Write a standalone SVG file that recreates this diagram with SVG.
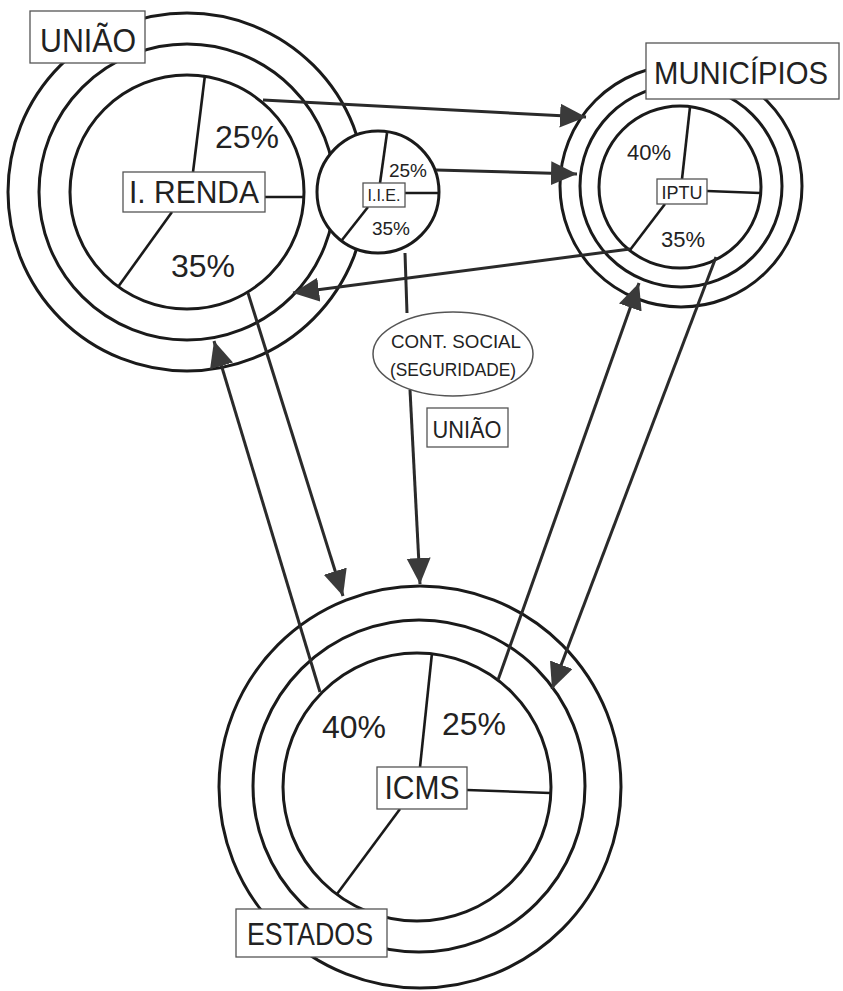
<svg xmlns="http://www.w3.org/2000/svg" width="843" height="991" viewBox="0 0 843 991">
<style>
.ring{fill:none;stroke:#1a1a1a;stroke-width:3}
.fillring{fill:#fff;stroke:#1a1a1a;stroke-width:3}
.pie{stroke:#1a1a1a;stroke-width:2.6;fill:none}
.box{fill:#fff;stroke:#555;stroke-width:1.3}
.t{font-family:"Liberation Sans",Arial,sans-serif;fill:#222;text-anchor:middle}
.con{stroke:#2a2a2a;stroke-width:3;fill:none}
</style>
<defs>
<marker id="ah" markerUnits="userSpaceOnUse" markerWidth="28" markerHeight="26" refX="26" refY="12" orient="auto">
<path d="M0,0 L26,12 L0,24 Z" fill="#3a3a3a"/>
</marker>
</defs>
<rect width="843" height="991" fill="#fff"/>

<g id="uniao">
<circle class="ring" cx="187" cy="192" r="179"/>
<circle class="ring" cx="187" cy="192" r="148"/>
<circle class="ring" cx="187" cy="192" r="117"/>
<line class="pie" x1="205" y1="75" x2="193" y2="172"/>
<line class="pie" x1="265" y1="197" x2="305" y2="197"/>
<line class="pie" x1="172" y1="212" x2="118" y2="287"/>
<rect class="box" x="123" y="172" width="142" height="40"/>
<text class="t" x="194" y="203" font-size="32" textLength="130" lengthAdjust="spacingAndGlyphs">I. RENDA</text>
<text class="t" x="247" y="148" font-size="32">25%</text>
<text class="t" x="203" y="277" font-size="32">35%</text>
<rect class="box" x="30" y="11" width="115" height="52"/>
<text class="t" x="88" y="52" font-size="34" textLength="96" lengthAdjust="spacingAndGlyphs">UNIÃO</text>
</g>

<g id="iie">
<circle class="fillring" cx="378" cy="192" r="61"/>
<line class="pie" x1="387" y1="133" x2="380" y2="183"/>
<line class="pie" x1="405" y1="193" x2="439" y2="193"/>
<line class="pie" x1="368" y1="207" x2="342" y2="240"/>
<rect class="box" x="363" y="183" width="42" height="24"/>
<text class="t" x="384" y="201" font-size="16" textLength="33" lengthAdjust="spacingAndGlyphs">I.I.E.</text>
<text class="t" x="408" y="177" font-size="19">25%</text>
<text class="t" x="391" y="235" font-size="19">35%</text>
</g>

<g id="municipios">
<circle class="ring" cx="681" cy="186" r="121"/>
<circle class="ring" cx="681" cy="186" r="101"/>
<circle class="ring" cx="680" cy="187" r="81"/>
<line class="pie" x1="690" y1="107" x2="682" y2="179"/>
<line class="pie" x1="707" y1="191" x2="760" y2="193"/>
<line class="pie" x1="665" y1="204" x2="630" y2="250"/>
<rect class="box" x="657" y="179" width="50" height="25"/>
<text class="t" x="682" y="199" font-size="19" textLength="41" lengthAdjust="spacingAndGlyphs">IPTU</text>
<text class="t" x="649" y="160" font-size="22">40%</text>
<text class="t" x="683" y="247" font-size="22">35%</text>
<rect class="box" x="646" y="43" width="193" height="56"/>
<text class="t" x="741" y="84" font-size="32" textLength="174" lengthAdjust="spacingAndGlyphs">MUNICÍPIOS</text>
</g>

<g id="icms">
<circle class="ring" cx="420" cy="787" r="201"/>
<circle class="ring" cx="419" cy="786" r="166"/>
<circle class="ring" cx="417" cy="787" r="134"/>
<line class="pie" x1="432" y1="653" x2="420" y2="767"/>
<line class="pie" x1="467" y1="790" x2="550" y2="793"/>
<line class="pie" x1="400" y1="809" x2="337" y2="894"/>
<rect class="box" x="377" y="767" width="90" height="42"/>
<text class="t" x="422" y="799" font-size="34" textLength="75" lengthAdjust="spacingAndGlyphs">ICMS</text>
<text class="t" x="354" y="738" font-size="32">40%</text>
<text class="t" x="474" y="735" font-size="32">25%</text>
<rect class="box" x="236" y="909" width="151" height="48"/>
<text class="t" x="310" y="945" font-size="32" textLength="126" lengthAdjust="spacingAndGlyphs">ESTADOS</text>
</g>

<g id="connectors">
<line class="con" x1="263" y1="100" x2="586" y2="117" marker-end="url(#ah)"/>
<line class="con" x1="436" y1="170" x2="577" y2="174" marker-end="url(#ah)"/>
<line class="con" x1="630" y1="249" x2="293" y2="293" stroke-width="2.6" marker-end="url(#ah)"/>
<line class="con" x1="405" y1="253" x2="407" y2="313" stroke-width="2.6"/>
<line class="con" x1="410" y1="390" x2="420" y2="584" stroke-width="4" marker-end="url(#ah)"/>
<line class="con" x1="248" y1="293" x2="343" y2="596" stroke-width="2.6" marker-end="url(#ah)"/>
<line class="con" x1="320" y1="692" x2="214" y2="341" stroke-width="2.6" marker-end="url(#ah)"/>
<line class="con" x1="498" y1="680" x2="639" y2="283" stroke-width="2.6" marker-end="url(#ah)"/>
<line class="con" x1="716" y1="257" x2="552" y2="689" stroke-width="2.6" marker-end="url(#ah)"/>
</g>

<g id="cont-social">
<ellipse cx="453" cy="354" rx="80" ry="42" fill="#fff" stroke="#555" stroke-width="1.5"/>
<text class="t" x="456" y="348" font-size="19" textLength="130" lengthAdjust="spacingAndGlyphs">CONT. SOCIAL</text>
<text class="t" x="453" y="376" font-size="19" textLength="126" lengthAdjust="spacingAndGlyphs">(SEGURIDADE)</text>
</g>

<g id="label-uniao-2">
<rect class="box" x="427" y="408" width="81" height="39"/>
<text class="t" x="467" y="438" font-size="24" textLength="69" lengthAdjust="spacingAndGlyphs">UNIÃO</text>
</g>
</svg>
